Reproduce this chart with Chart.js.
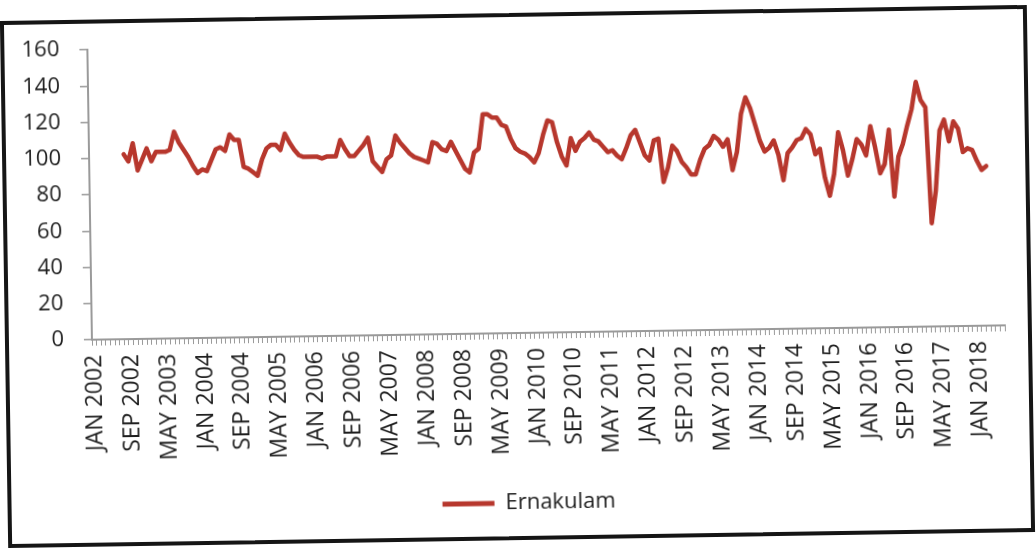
<!DOCTYPE html>
<html lang="en">

<head>
  <meta charset="UTF-8">
  <meta name="viewport" content="width=device-width, initial-scale=1.0">
  <title>Ernakulam</title>
  <script src="https://cdn.jsdelivr.net/npm/chart.js"></script>
  <style>
    html, body {
      margin: 0;
      background: #fff;
    }
    body {
      width: 1036px;
      height: 551px;
      overflow: hidden;
      position: relative;
    }
    .frame {
      position: absolute;
      left: 4px;
      top: 13px;
      width: 1027px;
      height: 527px;
      box-sizing: border-box;
      border: 4px solid #151515;
      transform: rotate(-0.9deg);
    }
    .frame canvas {
      display: block;
    }
  </style>
</head>

<body>
  <div class="frame">
    <canvas id="priceChart" width="1019" height="519"></canvas>
  </div>
  <script>
    const MONTHS = ['JAN', 'FEB', 'MAR', 'APR', 'MAY', 'JUN', 'JUL', 'AUG', 'SEP', 'OCT', 'NOV', 'DEC'];
    const firstYear = 2002;
    const monthCount = 198; // JAN 2002 .. JUN 2018

    const tickLabels = [
      'JAN 2002', 'SEP 2002', 'MAY 2003', 'JAN 2004', 'SEP 2004', 'MAY 2005', 'JAN 2006',
      'SEP 2006', 'MAY 2007', 'JAN 2008', 'SEP 2008', 'MAY 2009', 'JAN 2010', 'SEP 2010',
      'MAY 2011', 'JAN 2012', 'SEP 2012', 'MAY 2013', 'JAN 2014', 'SEP 2014', 'MAY 2015',
      'JAN 2016', 'SEP 2016', 'MAY 2017', 'JAN 2018'
    ];

    // monthly values, first one is AUG 2002
    const seriesStart = 'AUG 2002';
    const ernakulam = [
      102, 98, 108, 93, 99,
      105, 98, 103, 103, 103, 104, 114, 108, 104, 100, 95, 91,
      93, 92, 98, 104, 105, 103, 112, 109, 109, 94, 93, 91,
      89, 98, 104, 106, 106, 103, 112, 107, 103, 100, 99, 99,
      99, 99, 98, 99, 99, 99, 108, 103, 99, 99, 102, 105,
      109, 96, 93, 90, 97, 99, 110, 106, 103, 100, 98, 97,
      96, 95, 106, 105, 102, 101, 106, 101, 96, 91, 89, 100,
      102, 121, 121, 119, 119, 115, 114, 107, 102, 100, 99, 97,
      94, 99, 109, 117, 116, 105, 97, 92, 107, 100, 105, 107,
      110, 106, 105, 102, 99, 100, 97, 95, 101, 108, 111, 104,
      97, 94, 105, 106, 82, 90, 102, 99, 93, 90, 86, 86,
      94, 100, 102, 107, 105, 101, 105, 88, 98, 119, 128, 122,
      113, 104, 98, 100, 104, 96, 82, 97, 100, 104, 105, 110,
      107, 96, 99, 83, 73, 85, 108, 98, 84, 93, 104, 101,
      95, 111, 99, 85, 90, 109, 72, 94, 101, 111, 120, 135,
      125, 121, 57, 75, 108, 114, 102, 113, 109, 96, 98, 97,
      91, 86, 88
    ];

    const yTicks = { min: 0, max: 160, step: 20 };

    const categories = [];
    for (let i = 0; i < monthCount; i++) {
      categories.push(MONTHS[i % 12] + ' ' + (firstYear + Math.floor(i / 12)));
    }

    const startIndex = categories.indexOf(seriesStart);
    const seriesData = categories.map((_, i) => {
      const k = i - startIndex;
      return (k >= 0 && k < ernakulam.length) ? ernakulam[k] : null;
    });

    const lineColor = '#b7372d';
    const axisColor = '#9a9a9a';
    const textColor = '#1e1e1e';

    // nudge the legend a little to the right of the canvas centre
    const legendShift = 11;
    const shiftLegend = {
      id: 'shiftLegend',
      afterLayout(chart) {
        chart.legend.left += legendShift;
        chart.legend.right += legendShift;
      }
    };

    new Chart(document.getElementById('priceChart').getContext('2d'), {
      type: 'line',
      data: {
        labels: categories,
        datasets: [{
          label: 'Ernakulam',
          data: seriesData,
          borderColor: lineColor,
          backgroundColor: lineColor,
          borderWidth: 4.5,
          borderJoinStyle: 'round',
          borderCapStyle: 'round',
          pointRadius: 0,
          tension: 0
        }]
      },
      plugins: [shiftLegend],
      options: {
        responsive: false,
        animation: false,
        layout: {
          padding: { left: 17, right: 23, top: 26, bottom: 12 }
        },
        plugins: {
          tooltip: { enabled: false },
          legend: {
            position: 'bottom',
            labels: {
              boxWidth: 52,
              boxHeight: 5,
              padding: 10,
              color: textColor,
              font: { family: 'Open Sans', size: 22 },
              generateLabels(chart) {
                return Chart.defaults.plugins.legend.labels.generateLabels(chart)
                  .map(item => Object.assign(item, { lineWidth: 0 }));
              }
            }
          }
        },
        scales: {
          x: {
            offset: true,
            grid: {
              offset: true,
              drawOnChartArea: false,
              drawTicks: true,
              tickLength: 6,
              color: axisColor,
              lineWidth: 1
            },
            border: { display: true, color: axisColor, width: 2 },
            ticks: {
              autoSkip: false,
              minRotation: 90,
              maxRotation: 90,
              padding: 9,
              color: textColor,
              font: { family: 'Open Sans', size: 23 },
              callback(value) {
                const name = this.getLabelForValue(value);
                return tickLabels.includes(name) ? name : '';
              }
            },
            afterFit(scale) {
              scale.height = 149;
              // the rotated labels need no extra side room
              scale.paddingLeft = 0;
              scale.paddingRight = 0;
            }
          },
          y: {
            min: yTicks.min,
            max: yTicks.max,
            grid: {
              drawOnChartArea: false,
              drawTicks: true,
              tickLength: 8,
              color: axisColor,
              lineWidth: 1.5
            },
            border: { display: true, color: axisColor, width: 2 },
            ticks: {
              stepSize: yTicks.step,
              padding: 20,
              color: textColor,
              font: { family: 'Open Sans', size: 22 }
            },
            afterFit(scale) {
              scale.width = 66;
              scale.paddingTop = 0;
              scale.paddingBottom = 0;
            }
          }
        }
      }
    });
  </script>
</body>

</html>
